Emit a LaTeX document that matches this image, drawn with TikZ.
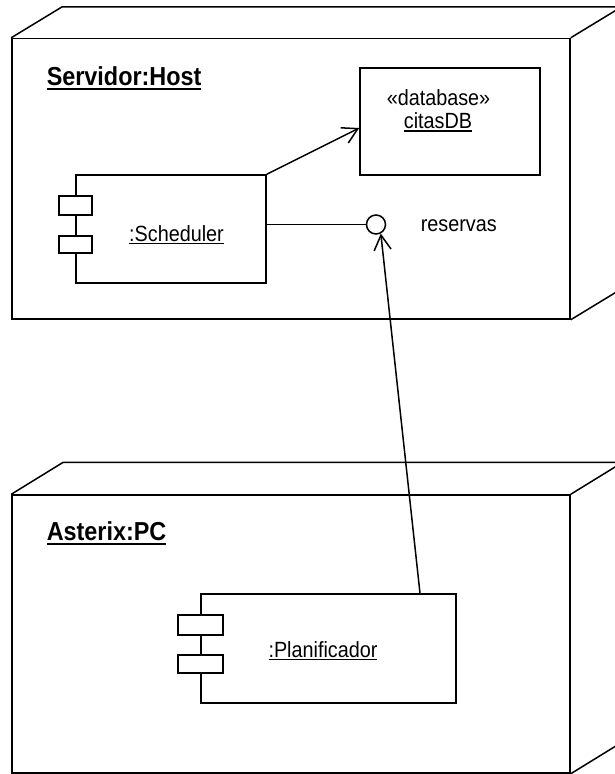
\documentclass[tikz,border=0pt]{standalone}
\usepackage{fontspec}
\setmainfont{Liberation Sans}[FakeStretch=0.9]
\usetikzlibrary{arrows.meta,calc}
\newcommand{\ulx}[3]{\setbox0=\hbox{#3}\hbox{\copy0\kern-\wd0\rule[#1]{\wd0}{#2}}}
\begin{document}
\begin{tikzpicture}[x=1pt,y=-1pt, line width=1.5pt,
  hostbox/.style={draw, rectangle, inner sep=0, minimum width=558pt},
  compbox/.style={draw, rectangle, inner sep=0},
  portbox/.style={draw, rectangle, inner sep=0, fill=white},
  ifc/.style={draw, circle, inner sep=0, minimum size=19pt},
  arr/.style={-{Straight Barb[length=15pt,width=17pt]}},
  bigtxt/.style={font=\fontsize{26}{30}\selectfont\bfseries, inner sep=0},
  txt/.style={font=\fontsize{22}{26}\selectfont, inner sep=0},
]
\path[use as bounding box] (0,0) rectangle (615,774);
\clip (0,0) rectangle (615,774);

% ---- Servidor:Host node ----
\node[hostbox, minimum height=280.5pt] (srv) at (291,178.75) {};
\draw (srv.north west) -- ++(51,-31) -- ($(srv.north east)+(51,-31)$)
      -- ($(srv.south east)+(51,-31)$) -- (srv.south east);
\draw (srv.north east) -- ++(51,-31);
\node[bigtxt, anchor=base west] (srvlbl) at (46,85) {\ulx{-4.5pt}{2pt}{Servidor:Host}};

% ---- Asterix:PC node ----
\node[hostbox, minimum height=278pt] (pc) at (291,634) {};
\draw (pc.north west) -- ++(52,-32) -- ($(pc.north east)+(52,-32)$)
      -- ($(pc.south east)+(52,-32)$) -- (pc.south east);
\draw (pc.north east) -- ++(52,-32);
\node[bigtxt, anchor=base west] (pclbl) at (46,540) {\ulx{-5pt}{2pt}{Asterix:PC}};

% ---- database ----
\node[compbox, minimum width=180pt, minimum height=107pt] (db) at (450,121.5) {};
\node[txt, anchor=base] (dbst) at (438.5,105) {«database»};
\node[txt, anchor=base] (dbname) at (438,128) {\ulx{-4pt}{2pt}{citasDB}};

% ---- Scheduler component ----
\node[compbox, minimum width=190pt, minimum height=108pt] (sch) at (171,229) {};
\node[portbox, minimum width=33pt, minimum height=19pt] (schp1) at (sch.west |- 0,205.5) {};
\node[portbox, minimum width=33pt, minimum height=17pt] (schp2) at (sch.west |- 0,244.5) {};
\node[txt, anchor=base] (schlbl) at (176.5,241) {\ulx{-3pt}{1.2pt}{:Scheduler}};

% ---- interface ----
\node[ifc] (iface) at (376,224.5) {};
\node[txt, anchor=base west] (ifclbl) at (420,231) {reservas};

% ---- Planificador component ----
\node[compbox, minimum width=255pt, minimum height=109pt] (pla) at (328.5,648.5) {};
\node[portbox, minimum width=45pt, minimum height=20pt] (plap1) at (pla.west |- 0,625) {};
\node[portbox, minimum width=45pt, minimum height=18pt] (plap2) at (pla.west |- 0,664) {};
\node[txt, anchor=base] (plalbl) at (323,657) {\ulx{-3pt}{1.2pt}{:Planificador}};

% ---- connectors ----
\draw[arr] (sch.north east) -- ([yshift=-6.5pt]db.west);
\draw (sch.east |- iface) -- (iface.west);
\coordinate (plaout) at ([xshift=91.5pt]pla.north);
\draw[arr] (plaout) -- (iface.-62);
\end{tikzpicture}
\end{document}
